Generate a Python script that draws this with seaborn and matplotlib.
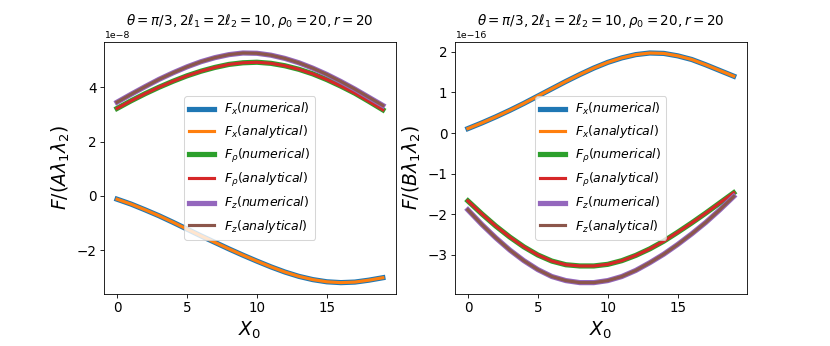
import matplotlib
matplotlib.use("Agg")
import matplotlib.pyplot as plt
import numpy as np
import pandas as pd
import seaborn as sns

x0 = list(range(20))

# left panel, units of 1e-8
a_fx = [-0.12, -0.30, -0.51, -0.73, -0.97, -1.22, -1.47, -1.71, -1.95, -2.18,
        -2.40, -2.61, -2.80, -2.96, -3.08, -3.16, -3.19, -3.17, -3.10, -3.01]
a_frho = [3.22, 3.50, 3.76, 4.00, 4.22, 4.42, 4.59, 4.73, 4.84, 4.90,
          4.92, 4.88, 4.79, 4.66, 4.49, 4.28, 4.04, 3.78, 3.48, 3.17]
a_fz = [3.45, 3.74, 4.02, 4.29, 4.53, 4.75, 4.94, 5.09, 5.20, 5.26,
        5.25, 5.18, 5.06, 4.90, 4.70, 4.47, 4.21, 3.93, 3.63, 3.33]

# right panel, units of 1e-16
b_fx = [0.11, 0.25, 0.40, 0.56, 0.73, 0.91, 1.09, 1.27, 1.44, 1.60,
        1.74, 1.85, 1.93, 1.97, 1.96, 1.90, 1.81, 1.68, 1.54, 1.40]
b_frho = [-1.67, -1.99, -2.29, -2.56, -2.80, -3.00, -3.15, -3.24, -3.27, -3.27,
          -3.23, -3.14, -3.01, -2.85, -2.66, -2.44, -2.21, -1.97, -1.72, -1.47]
b_fz = [-1.89, -2.25, -2.58, -2.88, -3.14, -3.36, -3.53, -3.63, -3.68, -3.68,
        -3.63, -3.53, -3.38, -3.19, -2.98, -2.74, -2.48, -2.20, -1.89, -1.56]

title = r'$\theta=\pi/3, 2\ell_1=2\ell_2=10, \rho_0=20, r=20$'
colors = sns.color_palette('tab10')


def draw(ax, fx, frho, fz, scale, ylabel):
    series = [(fx, 'x'), (frho, r'\rho'), (fz, 'z')]
    for i, (vals, sub) in enumerate(series):
        df = pd.DataFrame({'X0': x0, 'F': np.array(vals) * scale})
        sns.lineplot(data=df, x='X0', y='F', ax=ax, color=colors[2 * i], lw=5,
                     label=rf'$F_{{{sub}}}(numerical)$')
        sns.lineplot(data=df, x='X0', y='F', ax=ax, color=colors[2 * i + 1], lw=3,
                     label=rf'$F_{{{sub}}}(analytical)$')
    ax.set_title(title, fontsize=13)
    ax.set_xlabel(r'$X_0$', fontsize=18)
    ax.set_ylabel(ylabel, fontsize=18)
    ax.tick_params(labelsize=13)
    ax.yaxis.get_offset_text().set_fontsize(9)
    ax.set_xticks([0, 5, 10, 15])
    ax.legend(loc='center', fontsize=12)


fig, axes = plt.subplots(1, 2, figsize=(830 / 75, 346 / 75), dpi=75)
draw(axes[0], a_fx, a_frho, a_fz, 1e-8, r'$F/(A\lambda_1\lambda_2)$')
draw(axes[1], b_fx, b_frho, b_fz, 1e-16, r'$F/(B\lambda_1\lambda_2)$')
plt.subplots_adjust(bottom=0.15)
fig.savefig('out.png', dpi=75)
